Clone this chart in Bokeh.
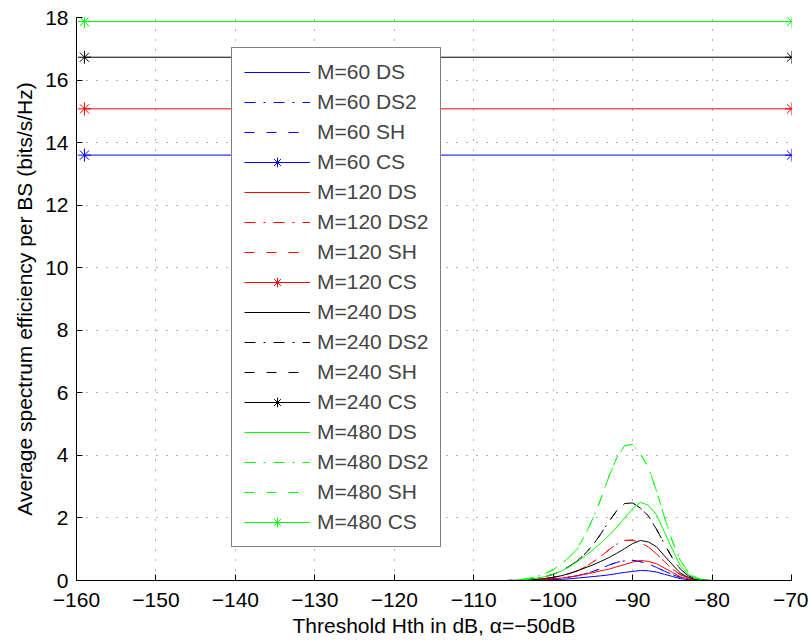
from bokeh.plotting import figure
from bokeh.models import Legend, LegendItem, FixedTicker, Range1d
from bokeh.embed import file_html
from bokeh.resources import INLINE

# ---------------- data ----------------
x_ticks = [-160, -150, -140, -130, -120, -110, -100, -90, -80, -70]
x_tick_labels = ["\u2212160", "\u2212150", "\u2212140", "\u2212130", "\u2212120",
                 "\u2212110", "\u2212100", "\u221290", "\u221280", "\u221270"]
y_ticks = [0, 2, 4, 6, 8, 10, 12, 14, 16, 18]

x_curve = [-159, -106, -105, -104, -103, -102, -101, -100, -99, -98, -97, -96, -95,
           -94, -93, -92, -91, -90, -89, -88, -87, -86, -85, -84, -83, -82, -81, -80, -70]

ds_m60 = [0, 0, 0.001, 0.002, 0.005, 0.01, 0.016, 0.026, 0.038, 0.054, 0.077, 0.1, 0.125,
          0.15, 0.18, 0.22, 0.26, 0.29, 0.32, 0.31, 0.27, 0.2, 0.13, 0.06, 0.026, 0.008, 0.002, 0, 0]
ds2_m60 = [0, 0, 0.001, 0.004, 0.01, 0.019, 0.032, 0.05, 0.077, 0.11, 0.15, 0.21, 0.29,
           0.38, 0.49, 0.58, 0.63, 0.64, 0.6, 0.53, 0.42, 0.3, 0.19, 0.1, 0.04, 0.013, 0.003, 0, 0]
sh_m60 = [0, 0, 0.001, 0.004, 0.01, 0.019, 0.032, 0.05, 0.077, 0.11, 0.15, 0.21, 0.29,
          0.38, 0.49, 0.58, 0.63, 0.64, 0.6, 0.53, 0.42, 0.3, 0.19, 0.1, 0.04, 0.013, 0.003, 0, 0]

ds_m120 = [0, 0, 0.001, 0.004, 0.01, 0.019, 0.032, 0.05, 0.077, 0.11, 0.15, 0.2, 0.25,
           0.31, 0.36, 0.44, 0.51, 0.59, 0.64, 0.61, 0.54, 0.4, 0.26, 0.12, 0.05, 0.016, 0.004, 0, 0]
ds2_m120 = [0, 0, 0.003, 0.009, 0.02, 0.04, 0.065, 0.1, 0.15, 0.22, 0.3, 0.43, 0.59,
            0.77, 0.98, 1.16, 1.28, 1.29, 1.2, 1.07, 0.85, 0.61, 0.37, 0.19, 0.08, 0.026, 0.006, 0, 0]
sh_m120 = [0, 0, 0.003, 0.009, 0.02, 0.04, 0.065, 0.1, 0.15, 0.22, 0.3, 0.43, 0.59,
           0.77, 0.98, 1.16, 1.28, 1.29, 1.2, 1.07, 0.85, 0.61, 0.37, 0.19, 0.08, 0.026, 0.006, 0, 0]

ds_m240 = [0, 0, 0.003, 0.008, 0.02, 0.04, 0.064, 0.1, 0.15, 0.22, 0.31, 0.4, 0.5,
           0.61, 0.73, 0.87, 1.02, 1.18, 1.28, 1.23, 1.08, 0.79, 0.51, 0.24, 0.1, 0.03, 0.008, 0, 0]
ds2_m240 = [0, 0, 0.005, 0.017, 0.04, 0.074, 0.124, 0.2, 0.3, 0.45, 0.62, 0.85, 1.13,
            1.49, 1.88, 2.23, 2.46, 2.48, 2.31, 2.06, 1.64, 1.17, 0.72, 0.37, 0.15, 0.05, 0.012, 0, 0]
sh_m240 = [0, 0, 0.005, 0.017, 0.04, 0.074, 0.124, 0.2, 0.3, 0.45, 0.62, 0.85, 1.13,
           1.49, 1.88, 2.23, 2.46, 2.48, 2.31, 2.06, 1.64, 1.17, 0.72, 0.37, 0.15, 0.05, 0.012, 0, 0]

ds_m480 = [0, 0, 0.005, 0.015, 0.04, 0.075, 0.125, 0.2, 0.3, 0.43, 0.6, 0.78, 0.98,
           1.2, 1.43, 1.7, 2.0, 2.3, 2.5, 2.4, 2.1, 1.55, 1.0, 0.48, 0.2, 0.06, 0.015, 0, 0]
ds2_m480 = [0, 0, 0.01, 0.03, 0.07, 0.13, 0.22, 0.35, 0.52, 0.74, 1.0, 1.44, 1.98,
            2.61, 3.31, 3.92, 4.31, 4.35, 4.05, 3.61, 2.87, 2.04, 1.26, 0.65, 0.26, 0.09, 0.02, 0, 0]
sh_m480 = [0, 0, 0.01, 0.03, 0.07, 0.13, 0.22, 0.35, 0.52, 0.74, 1.0, 1.44, 1.98,
           2.61, 3.31, 3.92, 4.31, 4.35, 4.05, 3.61, 2.87, 2.04, 1.26, 0.65, 0.26, 0.09, 0.02, 0, 0]

x_cs = [-159, -70]
cs_m60 = [13.6, 13.6]
cs_m120 = [15.08, 15.08]
cs_m240 = [16.73, 16.73]
cs_m480 = [17.87, 17.87]

groups = ["M=60", "M=120", "M=240", "M=480"]
colors = ["blue", "red", "black", "lime"]
ds_all = [ds_m60, ds_m120, ds_m240, ds_m480]
ds2_all = [ds2_m60, ds2_m120, ds2_m240, ds2_m480]
sh_all = [sh_m60, sh_m120, sh_m240, sh_m480]
cs_all = [cs_m60, cs_m120, cs_m240, cs_m480]

# ---------------- figure ----------------
FONT = "Liberation Sans"
p = figure(width=808, height=642, output_backend="svg", toolbar_location=None,
           x_range=Range1d(-160, -70), y_range=Range1d(0, 18),
           min_border_left=76, min_border_right=17, min_border_top=17, min_border_bottom=62)
p.outline_line_color = None
p.background_fill_color = "white"
p.border_fill_color = "white"

DASHDOT = "11 8 2 8"
DASHED = "10 12"
items = []
for g, c, ds, ds2, sh, cs in zip(groups, colors, ds_all, ds2_all, sh_all, cs_all):
    r1 = p.line(x_curve, ds, line_color=c, line_width=1, line_dash="solid")
    r2 = p.line(x_curve, ds2, line_color=c, line_width=1, line_dash=DASHDOT)
    r3 = p.line(x_curve, sh, line_color=c, line_width=1, line_dash=DASHED)
    r4 = p.line(x_cs, cs, line_color=c, line_width=1, line_dash="solid")
    r5 = p.scatter(x_cs, cs, marker="asterisk", size=13, line_color=c, line_width=1)
    items.append(LegendItem(label=g + " DS", renderers=[r1]))
    items.append(LegendItem(label=g + " DS2", renderers=[r2]))
    items.append(LegendItem(label=g + " SH", renderers=[r3]))
    items.append(LegendItem(label=g + " CS", renderers=[r4, r5]))

legend = Legend(items=items, location=(155, 33))
legend.label_text_font = FONT
legend.label_text_font_size = "21px"
legend.glyph_width = 66
legend.glyph_height = 24
legend.label_height = 24
legend.label_width = 110
legend.spacing = 6
legend.padding = 12
legend.margin = 0
legend.label_standoff = 7
legend.border_line_color = "black"
legend.border_line_width = 1
legend.background_fill_color = "white"
legend.background_fill_alpha = 1
p.add_layout(legend)

for ax in (p.xaxis, p.yaxis):
    ax.major_label_text_font = FONT
    ax.major_label_text_font_size = "21px"
    ax.major_label_text_color = "black"
    ax.axis_label_text_font = FONT
    ax.axis_label_text_font_size = "21px"
    ax.axis_label_text_font_style = "normal"
    ax.axis_label_text_color = "black"
    ax.axis_line_color = "black"
    ax.major_tick_line_color = "black"
    ax.major_tick_in = 6
    ax.major_tick_out = 0
    ax.minor_tick_line_color = None

p.xaxis.major_label_standoff = 12
p.xaxis.axis_label_standoff = 4
p.yaxis.major_label_standoff = 8
p.yaxis.axis_label_standoff = 6

p.xaxis.ticker = FixedTicker(ticks=x_ticks)
p.xaxis.major_label_overrides = {t: s for t, s in zip(x_ticks, x_tick_labels)}
p.yaxis.ticker = FixedTicker(ticks=y_ticks)
p.xaxis.axis_label = "Threshold Hth in dB, \u03b1=\u221250dB"
p.yaxis.axis_label = "Average spectrum efficiency per BS (bits/s/Hz)"

for gr in (p.xgrid, p.ygrid):
    gr.grid_line_color = "black"
    gr.grid_line_alpha = 0.6
    gr.grid_line_dash = "1 9"
    gr.grid_line_width = 1

open("out.html", "w").write(file_html(p, INLINE))
